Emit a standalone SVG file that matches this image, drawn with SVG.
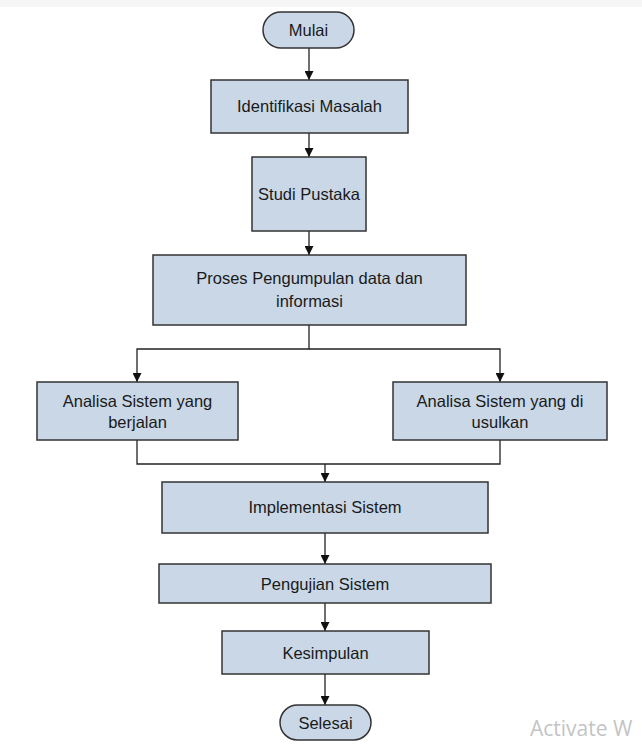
<svg xmlns="http://www.w3.org/2000/svg" width="642" height="756" viewBox="0 0 642 756">
<style>
.box{fill:#c9d7e6;stroke:#333;stroke-width:1.5}
.t{font-family:"Liberation Sans",Arial,sans-serif;font-size:16.5px;fill:#1a1a1a;text-anchor:middle}
.c{fill:none;stroke:#222;stroke-width:1.3}
</style>
<defs>
<marker id="ah" viewBox="0 0 10 10" refX="10" refY="5" markerWidth="9" markerHeight="9" markerUnits="userSpaceOnUse" orient="auto">
<path d="M0,0 L10,5 L0,10 z" fill="#111"/>
</marker>
</defs>
<rect x="0" y="0" width="642" height="7" fill="#f6f6f6"/>
<g id="connectors">
<line class="c" x1="309" y1="48" x2="309" y2="80" marker-end="url(#ah)"/>
<line class="c" x1="309" y1="133" x2="309" y2="157" marker-end="url(#ah)"/>
<line class="c" x1="309" y1="231" x2="309" y2="255" marker-end="url(#ah)"/>
<polyline class="c" points="309,325 309,349 137,349 137,382" marker-end="url(#ah)"/>
<polyline class="c" points="309,349 500,349 500,382" marker-end="url(#ah)"/>
<polyline class="c" points="137,440 137,464 500,464 500,440"/>
<line class="c" x1="325" y1="464" x2="325" y2="482" marker-end="url(#ah)"/>
<line class="c" x1="325" y1="533" x2="325" y2="564" marker-end="url(#ah)"/>
<line class="c" x1="325" y1="603" x2="325" y2="631" marker-end="url(#ah)"/>
<line class="c" x1="325" y1="674" x2="325" y2="705" marker-end="url(#ah)"/>
</g>
<g id="mulai"><rect class="box" x="263" y="12" width="91" height="36" rx="18"/><text class="t" x="308.5" y="36">Mulai</text></g>
<g id="identifikasi"><rect class="box" x="211" y="80" width="197" height="53"/><text class="t" x="309.5" y="112">Identifikasi Masalah</text></g>
<g id="studi"><rect class="box" x="252" y="157" width="114" height="74"/><text class="t" x="309" y="200">Studi Pustaka</text></g>
<g id="proses"><rect class="box" x="153" y="255" width="313" height="70"/><text class="t" x="309.5" y="284">Proses Pengumpulan data dan</text><text class="t" x="309.5" y="307">informasi</text></g>
<g id="analisa-berjalan"><rect class="box" x="37" y="382" width="201" height="58"/><text class="t" x="137.5" y="407">Analisa Sistem yang</text><text class="t" x="137.5" y="428">berjalan</text></g>
<g id="analisa-usulkan"><rect class="box" x="393" y="382" width="214" height="58"/><text class="t" x="500" y="407">Analisa Sistem yang di</text><text class="t" x="500" y="428">usulkan</text></g>
<g id="implementasi"><rect class="box" x="162" y="482" width="326" height="51"/><text class="t" x="325" y="513">Implementasi Sistem</text></g>
<g id="pengujian"><rect class="box" x="159" y="564" width="332" height="39"/><text class="t" x="325" y="590">Pengujian Sistem</text></g>
<g id="kesimpulan"><rect class="box" x="222" y="631" width="207" height="43"/><text class="t" x="325.5" y="659">Kesimpulan</text></g>
<g id="selesai"><rect class="box" x="280" y="705" width="91" height="35" rx="17.5"/><text class="t" x="325.5" y="729">Selesai</text></g>
<text x="530" y="736" font-family="'Open Sans',sans-serif" font-size="21" fill="#c4c4c4">Activate W</text>
</svg>
